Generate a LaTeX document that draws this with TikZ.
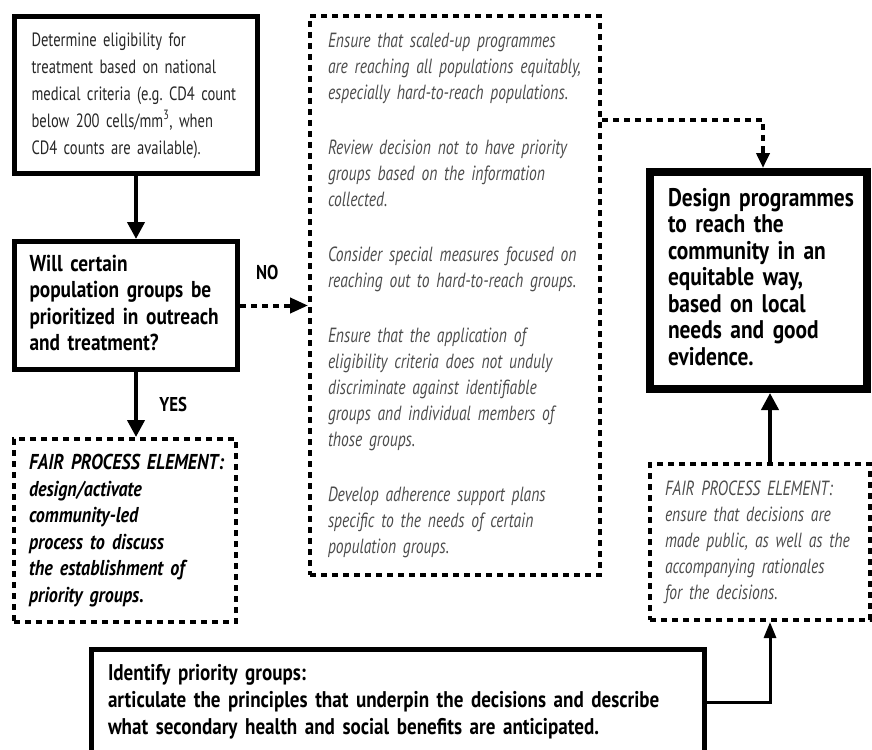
\documentclass[tikz,border=0pt]{standalone}
\usepackage{fontspec}
\setmainfont{PT Sans}[FakeStretch=0.84,WordSpace=0.6]
\newfontfamily\narrowfont{PT Sans}[FakeStretch=0.76,WordSpace=0.6]
\usetikzlibrary{arrows.meta,positioning}
\frenchspacing
\newcommand\boxlines[1]{\begin{tabular}{@{}l@{}}#1\end{tabular}}

\begin{document}
\begin{tikzpicture}[x=1pt,y=-1pt,line join=miter,
		solidbox/.style={draw,line width=5pt,align=left,inner ysep=0pt,text=black!85},
		dotbox/.style={draw,line width=4pt,dash pattern=on 6pt off 5pt,align=left,inner ysep=0pt,text=black!70},
		solidarrow/.style={line width=4pt,-{Triangle[length=17pt,width=17pt]}},
		dotarrow/.style={line width=4pt,dash pattern=on 6pt off 5pt,-{Triangle[length=18pt,width=15pt]}},
		thinarrow/.style={line width=3pt,-{Triangle[length=16pt,width=12pt]}},
		answer/.style={font=\fontsize{20}{22}\selectfont\bfseries}]
	\useasboundingbox (0,0) rectangle (872,749);
	\clip (0,0) rectangle (872,749);
	% left column
	\node[solidbox,minimum width=243pt,minimum height=157pt,inner xsep=17pt,text width=209pt,font=\narrowfont\fontsize{19.2}{27}\selectfont] (elig) at (136,95)
		{\boxlines{Determine eligibility for\\treatment based on national\\medical criteria (e.g. CD4 count\\below 200 cells/mm\textsuperscript{3}, when\\CD4 counts are available).}};
	\node[solidbox,minimum width=223pt,minimum height=128pt,inner xsep=15pt,text width=193pt,text=black,font=\fontsize{23}{26.5}\selectfont\bfseries] (question) at (126,305.5)
		{\boxlines{Will certain\\population groups be\\prioritized in outreach\\and treatment?}};
	\node[dotbox,minimum width=222pt,minimum height=183pt,inner xsep=15pt,text width=192pt,text=black,font=\fontsize{21.5}{26.5}\selectfont\bfseries\itshape] (fairone) at (125,530.5)
		{\boxlines{FAIR PROCESS ELEMENT:\\design/activate\\community-led\\process to discuss\\the establishment of\\priority groups.}};
	% middle column
	\node[dotbox,minimum width=290pt,minimum height=559pt,inner xsep=18pt,text width=254pt,font=\narrowfont\fontsize{20.5}{26}\selectfont\itshape] (measures) at (455,295.5)
		{\boxlines{Ensure that scaled-up programmes\\are reaching all populations equitably,\\especially hard-to-reach populations.\\[29pt]
		Review decision not to have priority\\groups based on the information\\collected.\\[29pt]
		Consider special measures focused on\\reaching out to hard-to-reach groups.\\[29pt]
		Ensure that the application of\\eligibility criteria does not unduly\\discriminate against identifiable\\groups and individual members of\\those groups.\\[29pt]
		Develop adherence support plans\\specific to the needs of certain\\population groups.}};
	% right column
	\node[solidbox,line width=8pt,minimum width=217pt,minimum height=217pt,inner xsep=18pt,text width=181pt,text=black,font=\fontsize{25.5}{26.5}\selectfont\bfseries] (design) at (758.5,280.5)
		{\boxlines{Design programmes\\to reach the\\community in an\\equitable way,\\based on local\\needs and good\\evidence.}};
	\node[dotbox,minimum width=220pt,minimum height=156pt,inner xsep=15pt,text width=190pt,font=\narrowfont\fontsize{20.5}{26}\selectfont\itshape] (fairtwo) at (760,542)
		{\boxlines{FAIR PROCESS ELEMENT:\\ensure that decisions are\\made public, as well as the\\accompanying rationales\\for the decisions.}};
	% bottom
	\node[solidbox,minimum width=613pt,minimum height=106pt,inner xsep=17pt,text width=579pt,text=black,font=\fontsize{22.7}{27}\selectfont\bfseries] (identify) at (397.5,702)
		{\boxlines{Identify priority groups:\\articulate the principles that underpin the decisions and describe\\what secondary health and social benefits are anticipated.}};
	% connectors
	\draw[solidarrow] (elig.south) -- (elig.south |- question.north);
	\draw[solidarrow] (elig.south |- question.south) -- (elig.south |- fairone.north) node[answer,pos=0.5,right=18pt] (yes) {YES};
	\draw[dotarrow] (question.east) -- (question.east -| measures.west) node[answer,pos=0.4,above=20pt] (no) {NO};
	\draw[line width=4pt,dash pattern=on 6pt off 5pt] ([yshift=-106pt]measures.north east) -| ([xshift=4.5pt,yshift=20pt]design.north) coordinate (bend);
	\draw[line width=4pt,-{Triangle[length=15pt,width=13pt]}] (bend) -- ([xshift=4.5pt]design.north);
	\draw[solidarrow] ([xshift=10pt]fairtwo.north) -- ([xshift=10pt]fairtwo.north |- design.south);
	\draw[thinarrow] (identify.east) -| ([xshift=10pt]fairtwo.south);
\end{tikzpicture}
\end{document}
